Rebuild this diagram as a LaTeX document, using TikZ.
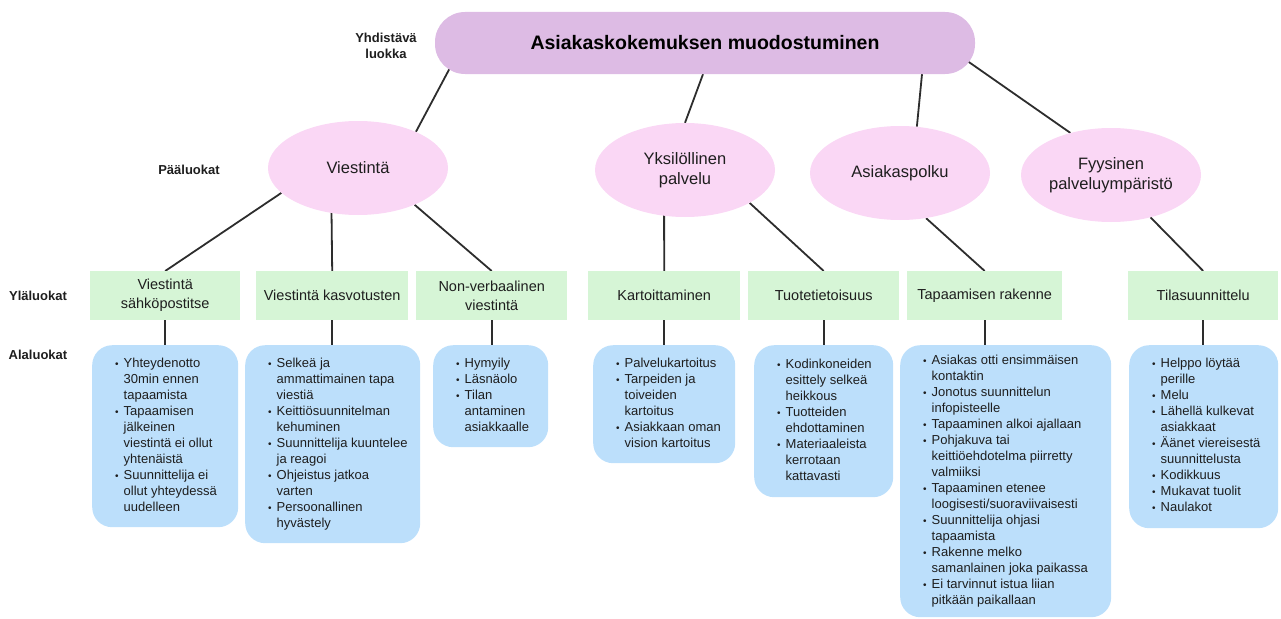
\documentclass[tikz,border=0pt]{standalone}
\usepackage{fontspec}
\setmainfont{Liberation Sans}
\usetikzlibrary{shapes.geometric,calc}
\pgfdeclarelayer{bg}
\pgfsetlayers{bg,main}

\definecolor{pillfill}{RGB}{221,187,228}
\definecolor{ellfill}{RGB}{250,215,245}
\definecolor{greenfill}{RGB}{214,245,214}
\definecolor{bluefill}{RGB}{188,223,251}
\definecolor{linecol}{RGB}{45,45,45}
\definecolor{txt}{RGB}{30,30,30}

% bullet list set as a two-column table, left aligned in a box of given width
\newcommand\blist[2]{\makebox[#1][l]{\begin{tabular}{@{}l@{\hspace{5pt}}l@{}}#2\end{tabular}}}
\newcommand\bi{{\fontsize{10}{16}\selectfont\textbullet}}

\tikzset{
  pill/.style={rectangle, rounded corners=30pt, fill=pillfill, draw=none,
    minimum width=540pt, minimum height=62pt, inner sep=0pt,
    font=\fontsize{19.5}{23}\selectfont\bfseries, text=black},
  ell/.style={ellipse, fill=ellfill, draw=none, minimum width=180pt,
    minimum height=94pt, inner sep=0pt, align=center,
    font=\fontsize{16.5}{20}\selectfont, text=txt},
  gbox/.style={rectangle, fill=greenfill, draw=none, minimum height=49pt,
    inner sep=0pt, align=center, anchor=north west,
    font=\fontsize{14.5}{19}\selectfont, text=txt},
  bbox/.style={rectangle, rounded corners=20pt, fill=bluefill, draw=none,
    inner sep=0pt, anchor=north west,
    font=\fontsize{13}{16}\selectfont, text=txt},
  lab/.style={align=center, font=\fontsize{13}{16}\selectfont\bfseries, text=txt},
  conn/.style={draw=linecol, line width=1.8pt}
}

\begin{document}
\begin{tikzpicture}[x=1pt, y=-1pt]
\useasboundingbox (0,0) rectangle (1281,618);

% level labels
\node[lab] (lyhd) at (386,46) {Yhdistävä\\luokka};
\node[lab] (lpaa) at (189,170) {Pääluokat};
\node[lab] (lyla) at (38,296) {Yläluokat};
\node[lab] (lala) at (38,355) {Alaluokat};

% combining category
\node[pill] (top) at (705,43) {Asiakaskokemuksen muodostuminen};

% main categories
\node[ell] (vie) at (358,168) {Viestintä};
\node[ell] (yks) at (685,170) {Yksilöllinen\\palvelu};
\node[ell] (asp) at (900,173) {Asiakaspolku};
\node[ell] (fyy) at (1111,175) {Fyysinen\\palveluympäristö};

% upper categories
\node[gbox, minimum width=150pt] (g1) at (90,271)  {Viestintä\\sähköpostitse};
\node[gbox, minimum width=152pt] (g2) at (256,271) {Viestintä kasvotusten};
\node[gbox, minimum width=151pt] (g3) at (416,271) {Non-verbaalinen\\viestintä};
\node[gbox, minimum width=152pt] (g4) at (588,271) {Kartoittaminen};
\node[gbox, minimum width=151pt] (g5) at (748,271) {Tuotetietoisuus};
\node[gbox, minimum width=155pt] (g6) at (907,271) {Tapaamisen rakenne};
\node[gbox, minimum width=150pt] (g7) at (1128,271) {Tilasuunnittelu};

% subcategories
\node[bbox, minimum width=146pt, minimum height=182pt] (b1) at (92,345) {\blist{100pt}{%
\bi & Yhteydenotto\\ & 30min ennen\\ & tapaamista\\
\bi & Tapaamisen\\ & jälkeinen\\ & viestintä ei ollut\\ & yhtenäistä\\
\bi & Suunnittelija ei\\ & ollut yhteydessä\\ & uudelleen}};

\node[bbox, minimum width=175pt, minimum height=198pt] (b2) at (245,345) {\blist{129pt}{%
\bi & Selkeä ja\\ & ammattimainen tapa\\ & viestiä\\
\bi & Keittiösuunnitelman\\ & kehuminen\\
\bi & Suunnittelija kuuntelee\\ & ja reagoi\\
\bi & Ohjeistus jatkoa\\ & varten\\
\bi & Persoonallinen\\ & hyvästely}};

\node[bbox, minimum width=115pt, minimum height=102pt] (b3) at (433,345) {\blist{69pt}{%
\bi & Hymyily\\
\bi & Läsnäolo\\
\bi & Tilan\\ & antaminen\\ & asiakkaalle}};

\node[bbox, minimum width=142pt, minimum height=118pt] (b4) at (593,345) {\blist{96pt}{%
\bi & Palvelukartoitus\\
\bi & Tarpeiden ja\\ & toiveiden\\ & kartoitus\\
\bi & Asiakkaan oman\\ & vision kartoitus}};

\node[bbox, minimum width=139pt, minimum height=152pt] (b5) at (754,345) {\blist{93pt}{%
\bi & Kodinkoneiden\\ & esittely selkeä\\ & heikkous\\
\bi & Tuotteiden\\ & ehdottaminen\\
\bi & Materiaaleista\\ & kerrotaan\\ & kattavasti}};

\node[bbox, minimum width=211pt, minimum height=272pt] (b6) at (900,345) {\blist{165pt}{%
\bi & Asiakas otti ensimmäisen\\ & kontaktin\\
\bi & Jonotus suunnittelun\\ & infopisteelle\\
\bi & Tapaaminen alkoi ajallaan\\
\bi & Pohjakuva tai\\ & keittiöehdotelma piirretty\\ & valmiiksi\\
\bi & Tapaaminen etenee\\ & loogisesti/suoraviivaisesti\\
\bi & Suunnittelija ohjasi\\ & tapaamista\\
\bi & Rakenne melko\\ & samanlainen joka paikassa\\
\bi & Ei tarvinnut istua liian\\ & pitkään paikallaan}};

\node[bbox, minimum width=149pt, minimum height=183pt] (b7) at (1129,345) {\blist{103pt}{%
\bi & Helppo löytää\\ & perille\\
\bi & Melu\\
\bi & Lähellä kulkevat\\ & asiakkaat\\
\bi & Äänet viereisestä\\ & suunnittelusta\\
\bi & Kodikkuus\\
\bi & Mukavat tuolit\\
\bi & Naulakot}};

% connectors, kept behind the shapes
\begin{pgfonlayer}{bg}
\draw[conn] ([xshift=15pt,yshift=6pt]top.south west) -- (vie.32);
\draw[conn] ([xshift=-2pt]top.south) -- (yks.north);
\draw[conn] ([xshift=217pt]top.south) -- (asp.70);
\draw[conn] ([xshift=-15pt,yshift=-13pt]top.east) -- (fyy.134);

\draw[conn] (vie.198) -- (g1.north);
\draw[conn] ([xshift=-27pt]vie.center) -- (g2.north);
\draw[conn] (vie.-33) -- (g3.north);
\draw[conn] ([xshift=-21pt]yks.center) -- (g4.north);
\draw[conn] (yks.-27) -- (g5.north);
\draw[conn] (asp.-60) -- (g6.north);
\draw[conn] (fyy.-47) -- (g7.north);

\foreach \i in {1,...,7}
  \draw[conn] (g\i.south) -- (g\i.south |- b\i.north);
\end{pgfonlayer}
\end{tikzpicture}
\end{document}
